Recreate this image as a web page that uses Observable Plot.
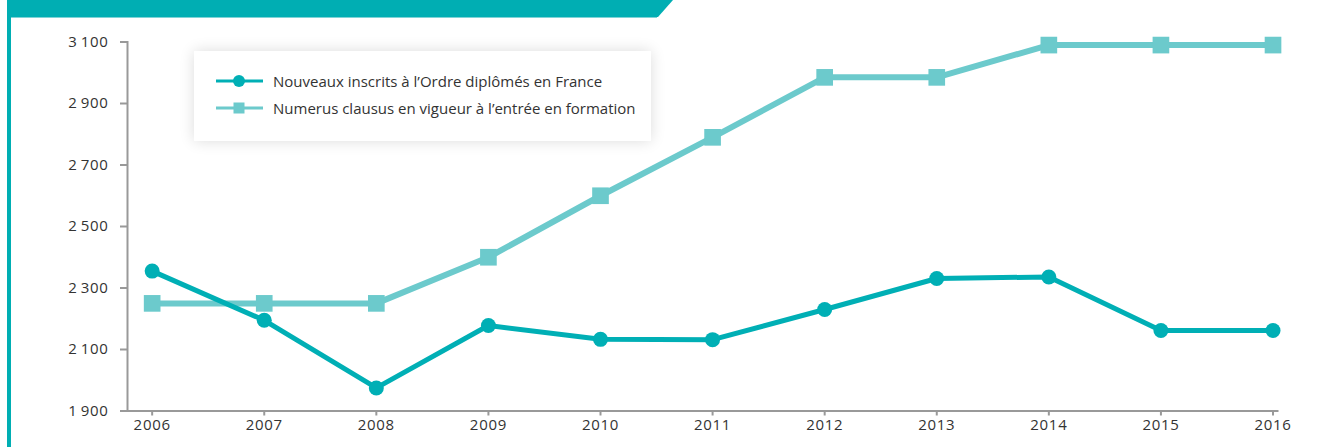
<!DOCTYPE html>
<html><head><meta charset="utf-8">
<script src="https://cdn.jsdelivr.net/npm/d3@7"></script>
<script src="https://cdn.jsdelivr.net/npm/@observablehq/plot@0.6"></script>
<style>
html,body{margin:0;padding:0;background:#fff;}
#wrap{position:relative;width:1322px;height:447px;overflow:hidden;font-family:"Open Sans",sans-serif;}
#chart > svg{position:absolute;left:0;top:0;}
#chart svg text{letter-spacing:0.7px;}
#bar{position:absolute;left:7px;top:0;width:4px;height:447px;background:#00AEB3;}
#banner{position:absolute;left:7px;top:0;width:666px;height:17px;background:#00AEB3;clip-path:polygon(0 0,100% 0,calc(100% - 15px) 100%,0 100%);}
#bannerline{position:absolute;left:11px;top:17px;width:646px;height:1px;background:#7fd3d6;}
#legend{position:absolute;left:194px;top:51px;width:457px;height:90px;background:#fff;box-shadow:0 0 14px rgba(0,0,0,0.14);z-index:2;}
#legend .row{position:absolute;left:22px;height:20px;display:flex;align-items:center;font-size:15px;color:#333;white-space:nowrap;}
#legend .row svg{display:block;margin-right:10px;flex:none;}
</style>
</head><body>
<div id="wrap">
  <div id="chart"></div>
  <div id="bar"></div>
  <div id="banner"></div>
  <div id="bannerline"></div>
  <div id="legend"></div>
</div>
<script>
const years = [2006, 2007, 2008, 2009, 2010, 2011, 2012, 2013, 2014, 2015, 2016];
const nouveauxInscrits = [2355, 2195, 1975, 2178, 2133, 2132, 2230, 2331, 2336, 2162, 2162];
const numerusClausus = [2250, 2250, 2250, 2400, 2600, 2790, 2985, 2985, 3090, 3090, 3090];
const yTicks = [1900, 2100, 2300, 2500, 2700, 2900, 3100];
const seriesNames = ["Nouveaux inscrits à l’Ordre diplômés en France", "Numerus clausus en vigueur à l’entrée en formation"];
const seriesColors = ["#00AFB5", "#6CCACC"];

const inscritsData = years.map((year, i) => ({year, value: nouveauxInscrits[i]}));
const claususData = years.map((year, i) => ({year, value: numerusClausus[i]}));

const locale = d3.formatLocale({decimal: ",", thousands: "\u2009", grouping: [3], currency: ["", " €"]});
const fmtY = v => locale.format(",")(v);

const chart = Plot.plot({
  width: 1322,
  height: 447,
  marginLeft: 127,
  marginRight: 45,
  marginTop: 41.5,
  marginBottom: 36.5,
  style: {fontFamily: "'Open Sans', sans-serif", background: "transparent", overflow: "visible"},
  x: {domain: [2005.78, 2016.04], label: null},
  y: {domain: [1900, 3100], label: null},
  marks: [
    Plot.axisY(yTicks, {tickSize: 7, tickPadding: 12, stroke: "#999", strokeWidth: 2, fill: "#333", fontSize: 15, tickFormat: fmtY, label: null}),
    Plot.axisX(years, {tickSize: 5, tickPadding: 3, stroke: "#999", strokeWidth: 2, fill: "#333", fontSize: 15, tickFormat: d => String(d), label: null}),
    Plot.frame({anchor: "left", stroke: "#999", strokeWidth: 2}),
    Plot.frame({anchor: "bottom", stroke: "#999", strokeWidth: 2}),
    Plot.line(claususData, {x: "year", y: "value", stroke: seriesColors[1], strokeWidth: 6}),
    Plot.dot(claususData, {x: "year", y: "value", symbol: "square", r: 9.4, fill: seriesColors[1]}),
    Plot.line(inscritsData, {x: "year", y: "value", stroke: seriesColors[0], strokeWidth: 5}),
    Plot.dot(inscritsData, {x: "year", y: "value", r: 7.5, fill: seriesColors[0]})
  ]
});
document.getElementById("chart").appendChild(chart);

// legend
const legend = document.getElementById("legend");
seriesNames.forEach((name, i) => {
  const row = document.createElement("div");
  row.className = "row";
  row.style.top = (i === 0 ? 20 : 47) + "px";
  const sw = i === 0
    ? `<svg width="47" height="20"><line x1="0" y1="10" x2="47" y2="10" stroke="${seriesColors[0]}" stroke-width="3"/><circle cx="23" cy="10" r="6" fill="${seriesColors[0]}"/></svg>`
    : `<svg width="47" height="20"><line x1="0" y1="10" x2="47" y2="10" stroke="${seriesColors[1]}" stroke-width="3"/><rect x="17.5" y="4.5" width="11" height="11" fill="${seriesColors[1]}"/></svg>`;
  row.innerHTML = sw + `<span>${name}</span>`;
  legend.appendChild(row);
});
</script>
</body></html>
